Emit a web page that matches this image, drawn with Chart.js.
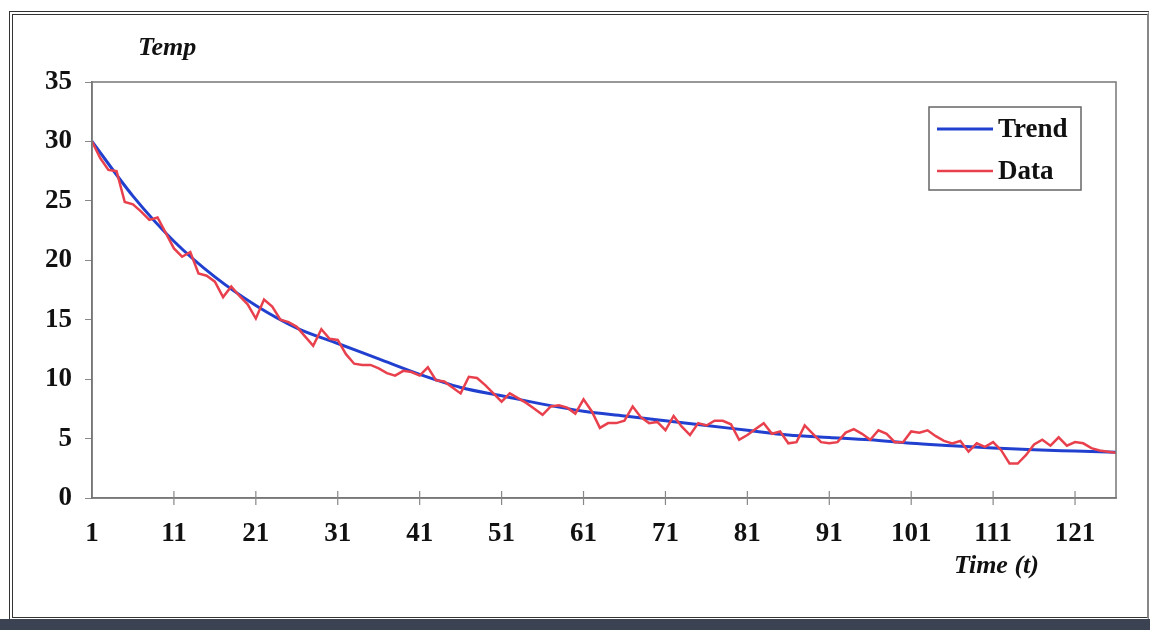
<!DOCTYPE html>
<html>
<head>
<meta charset="utf-8">
<script src="https://cdn.jsdelivr.net/npm/chart.js@4"></script>
<style>
  html, body { margin: 0; padding: 0; background: #fff; }
  #wrap { position: relative; width: 1150px; height: 630px; overflow: hidden; }
  #frame { position: absolute; left: 9px; top: 11px; width: 1134px; height: 602px;
           border: 4px double #333; border-right: 2px solid #888; }
  #band { position: absolute; left: 0; top: 619px; width: 1150px; height: 11px; background: #3b4352; }
  canvas { position: absolute; left: 0; top: 0; }
</style>
</head>
<body>
<div id="wrap">
  <div id="frame"></div>
  <div id="band"></div>
  <canvas id="chart" width="1150" height="630"></canvas>
</div>
<script>
// Time steps 1..126
const times = Array.from({ length: 126 }, (_, i) => i + 1)

// Measured temperatures (red)
const dataValues = [
  30.0, 28.6, 27.6, 27.5, 24.9, 24.7, 24.1, 23.4, 23.6, 22.3,
  21.0, 20.3, 20.7, 18.9, 18.7, 18.2, 16.9, 17.8, 17.0, 16.3,
  15.1, 16.7, 16.1, 15.0, 14.8, 14.4, 13.6, 12.8, 14.2, 13.4,
  13.3, 12.1, 11.3, 11.2, 11.2, 10.9, 10.5, 10.3, 10.7, 10.6,
  10.3, 11.0, 9.9, 9.8, 9.3, 8.8, 10.2, 10.1, 9.5, 8.8,
  8.1, 8.8, 8.4, 8.0, 7.5, 7.0, 7.7, 7.8, 7.6, 7.1,
  8.3, 7.3, 5.9, 6.3, 6.3, 6.5, 7.7, 6.8, 6.3, 6.4,
  5.7, 6.9, 6.0, 5.3, 6.3, 6.1, 6.5, 6.5, 6.2, 4.9,
  5.3, 5.8, 6.3, 5.4, 5.6, 4.6, 4.7, 6.1, 5.4, 4.7,
  4.6, 4.7, 5.5, 5.8, 5.4, 4.9, 5.7, 5.4, 4.7, 4.7,
  5.6, 5.5, 5.7, 5.2, 4.8, 4.6, 4.8, 3.9, 4.6, 4.3,
  4.7, 4.0, 2.9, 2.9, 3.6, 4.5, 4.9, 4.4, 5.1, 4.4,
  4.7, 4.6, 4.2, 4.0, 3.9, 3.8
]

// Trend (blue), read every 5 steps
const trendTimes = [1, 6, 11, 16, 21, 26, 31, 36, 41, 46, 51, 56, 61, 66, 71, 76, 81, 86, 91, 96, 101, 106, 111, 116, 121, 126]
const trendValues = [30.0, 25.4, 21.6, 18.6, 16.2, 14.3, 13.0, 11.7, 10.4, 9.3, 8.6, 7.9, 7.3, 6.9, 6.5, 6.1, 5.7, 5.3, 5.1, 4.9, 4.6, 4.4, 4.2, 4.05, 3.95, 3.85]

const xTicks = [1, 11, 21, 31, 41, 51, 61, 71, 81, 91, 101, 111, 121]
const yTicks = [0, 5, 10, 15, 20, 25, 30, 35]

const serif = '"Liberation Serif", "Times New Roman", serif'

// plot border, cross ticks, axis titles and legend box
const decor = {
  id: 'decor',
  afterDraw(chart) {
    const { ctx, chartArea: a, scales } = chart
    ctx.save()
    ctx.strokeStyle = '#777'
    ctx.lineWidth = 1.5
    ctx.strokeRect(a.left, a.top, a.right - a.left, a.bottom - a.top)

    // x tick crosses
    ctx.strokeStyle = '#888'
    ctx.lineWidth = 1.2
    xTicks.forEach(v => {
      if (v === 1) return
      const px = scales.x.getPixelForValue(v)
      ctx.beginPath()
      ctx.moveTo(px, a.bottom - 7)
      ctx.lineTo(px, a.bottom + 7)
      ctx.stroke()
    })

    ctx.fillStyle = '#111'
    ctx.font = 'italic bold 26px ' + serif
    ctx.textBaseline = 'middle'
    ctx.textAlign = 'left'
    ctx.fillText('Temp', 138, 48)
    ctx.fillText('Time (t)', 954, 566)

    // legend
    const lx = 929, ly = 107, lw = 152, lh = 83
    ctx.fillStyle = '#fff'
    ctx.fillRect(lx, ly, lw, lh)
    ctx.strokeStyle = '#666'
    ctx.lineWidth = 1.5
    ctx.strokeRect(lx, ly, lw, lh)
    chart.data.datasets.forEach((ds, i) => {
      const y = ly + 22 + i * 42
      ctx.strokeStyle = ds.borderColor
      ctx.lineWidth = ds.borderWidth
      ctx.beginPath()
      ctx.moveTo(lx + 8, y)
      ctx.lineTo(lx + 64, y)
      ctx.stroke()
      ctx.fillStyle = '#111'
      ctx.font = 'bold 27px ' + serif
      ctx.fillText(ds.label, lx + 69, y + 1)
    })
    ctx.restore()
  }
}

new Chart(document.getElementById('chart'), {
  type: 'line',
  data: {
    datasets: [
      {
        label: 'Trend',
        data: trendTimes.map((t, i) => ({ x: t, y: trendValues[i] })),
        borderColor: '#2140cf',
        borderWidth: 3,
        pointRadius: 0,
        cubicInterpolationMode: 'monotone',
        order: 2
      },
      {
        label: 'Data',
        data: times.map((t, i) => ({ x: t, y: dataValues[i] })),
        borderColor: '#e8414d',
        borderWidth: 2.5,
        pointRadius: 0,
        tension: 0,
        order: 1
      }
    ]
  },
  options: {
    responsive: false,
    animation: false,
    layout: { padding: { left: 20, top: 82, right: 34, bottom: 0 } },
    plugins: {
      legend: { display: false },
      tooltip: { enabled: false }
    },
    scales: {
      x: {
        type: 'linear',
        min: 1,
        max: 126,
        afterBuildTicks: (scale) => { scale.ticks = xTicks.map(v => ({ value: v })) },
        afterFit: (scale) => { scale.height = 132 },
        grid: { display: false },
        border: { color: '#777', width: 1.5 },
        ticks: {
          color: '#111',
          padding: 12,
          maxRotation: 0,
          autoSkip: false,
          font: { family: serif, size: 27, weight: 'bold' }
        }
      },
      y: {
        min: 0,
        max: 35,
        afterBuildTicks: (scale) => { scale.ticks = yTicks.map(v => ({ value: v })) },
        afterFit: (scale) => { scale.width = 72 },
        grid: { drawOnChartArea: false, tickLength: 7, color: '#888' },
        border: { color: '#777', width: 1.5 },
        ticks: {
          color: '#111',
          padding: 13,
          font: { family: serif, size: 27, weight: 'bold' }
        }
      }
    }
  },
  plugins: [decor]
})
</script>
</body>
</html>
